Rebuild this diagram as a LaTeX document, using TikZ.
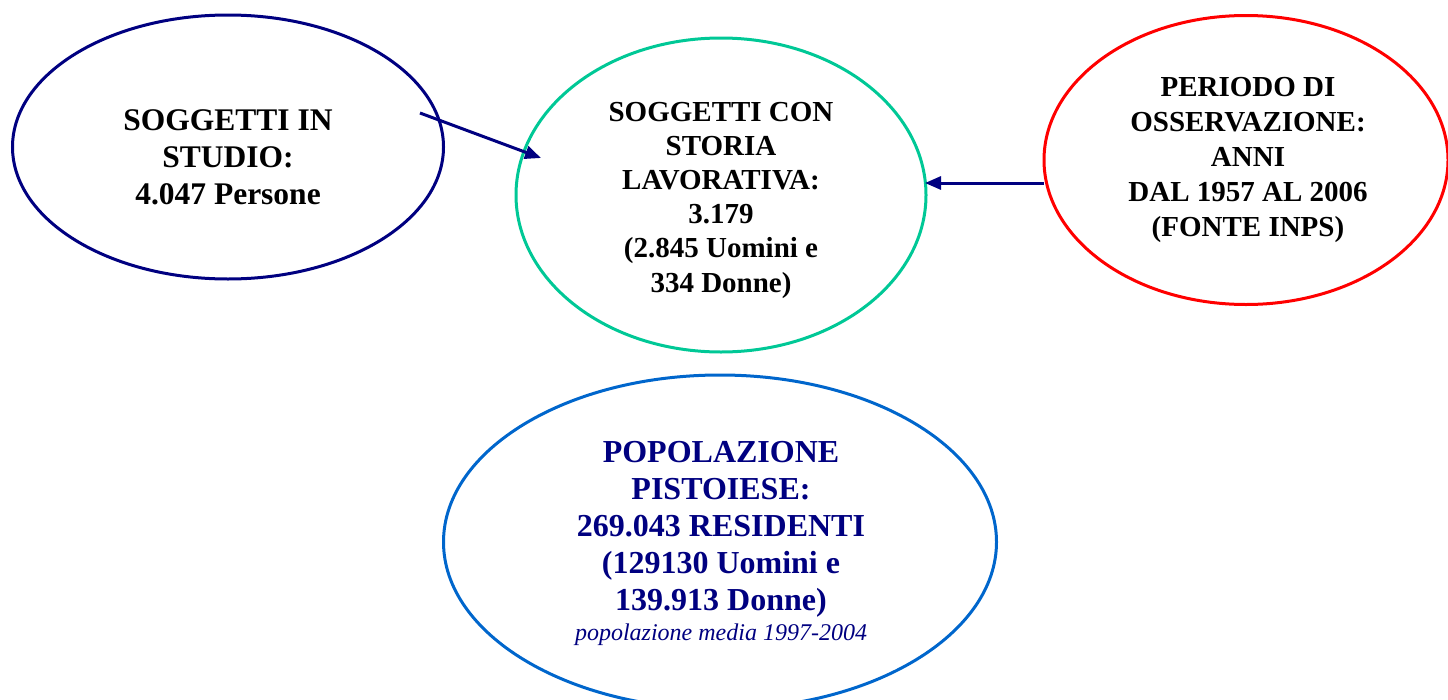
\documentclass[tikz,border=0pt]{standalone}
\usepackage{fontspec}
\setmainfont{Liberation Serif}
\usetikzlibrary{arrows.meta,shapes.geometric}
\definecolor{navy}{RGB}{0,0,128}
\definecolor{mint}{RGB}{0,200,150}
\definecolor{skyblue}{RGB}{0,102,204}
\definecolor{brightred}{RGB}{255,0,0}
\begin{document}
\begin{tikzpicture}[x=1pt,y=-1pt,
  ell/.style={ellipse, draw, line width=3pt, inner sep=0pt},
  txt/.style={align=center, inner sep=0pt, font=\bfseries},
  conn/.style={draw=navy, line width=3pt, -{Triangle[length=16pt,width=13pt]}}]
\useasboundingbox (0,0) rectangle (1448,699);

\node[ell, draw=navy, minimum width=431pt, minimum height=264pt] (e1) at (228,147) {};
\node[ell, draw=mint, minimum width=410pt, minimum height=314pt] (e2) at (721,195) {};
\node[ell, draw=brightred, minimum width=404pt, minimum height=289pt] (e3) at (1246,160) {};
\node[ell, draw=skyblue, minimum width=553pt, minimum height=334pt] (e4) at (720,542) {};

\node[txt, font=\bfseries\fontsize{31.5}{37}\selectfont] (t1) at (228,157)
  {SOGGETTI IN\\STUDIO:\\4.047 Persone};
\node[txt, font=\bfseries\fontsize{29}{34.2}\selectfont] (t2) at (721,200)
  {SOGGETTI CON\\STORIA\\LAVORATIVA:\\3.179\\(2.845 Uomini e\\334 Donne)};
\node[txt, font=\bfseries\fontsize{29}{35}\selectfont] (t3) at (1248,160)
  {PERIODO DI\\OSSERVAZIONE:\\ANNI\\DAL 1957 AL 2006\\(FONTE INPS)};
\node[txt, text=navy, font=\bfseries\fontsize{32}{37}\selectfont] (t4) at (721,529)
  {POPOLAZIONE\\PISTOIESE:\\269.043 RESIDENTI\\(129130 Uomini e\\139.913 Donne)};
\node[inner sep=0pt, text=navy, font=\itshape\fontsize{24}{28}\selectfont, anchor=base] (t5) at (721,640)
  {popolazione media 1997-2004};

\coordinate (a1s) at (420,113);
\coordinate (a1e) at (541,158);
\coordinate (a2s) at (1044,183);
\coordinate (a2e) at (925,183);
\draw[conn] (a1s) -- (a1e);
\draw[conn] (a2s) -- (a2e);
\end{tikzpicture}
\end{document}
